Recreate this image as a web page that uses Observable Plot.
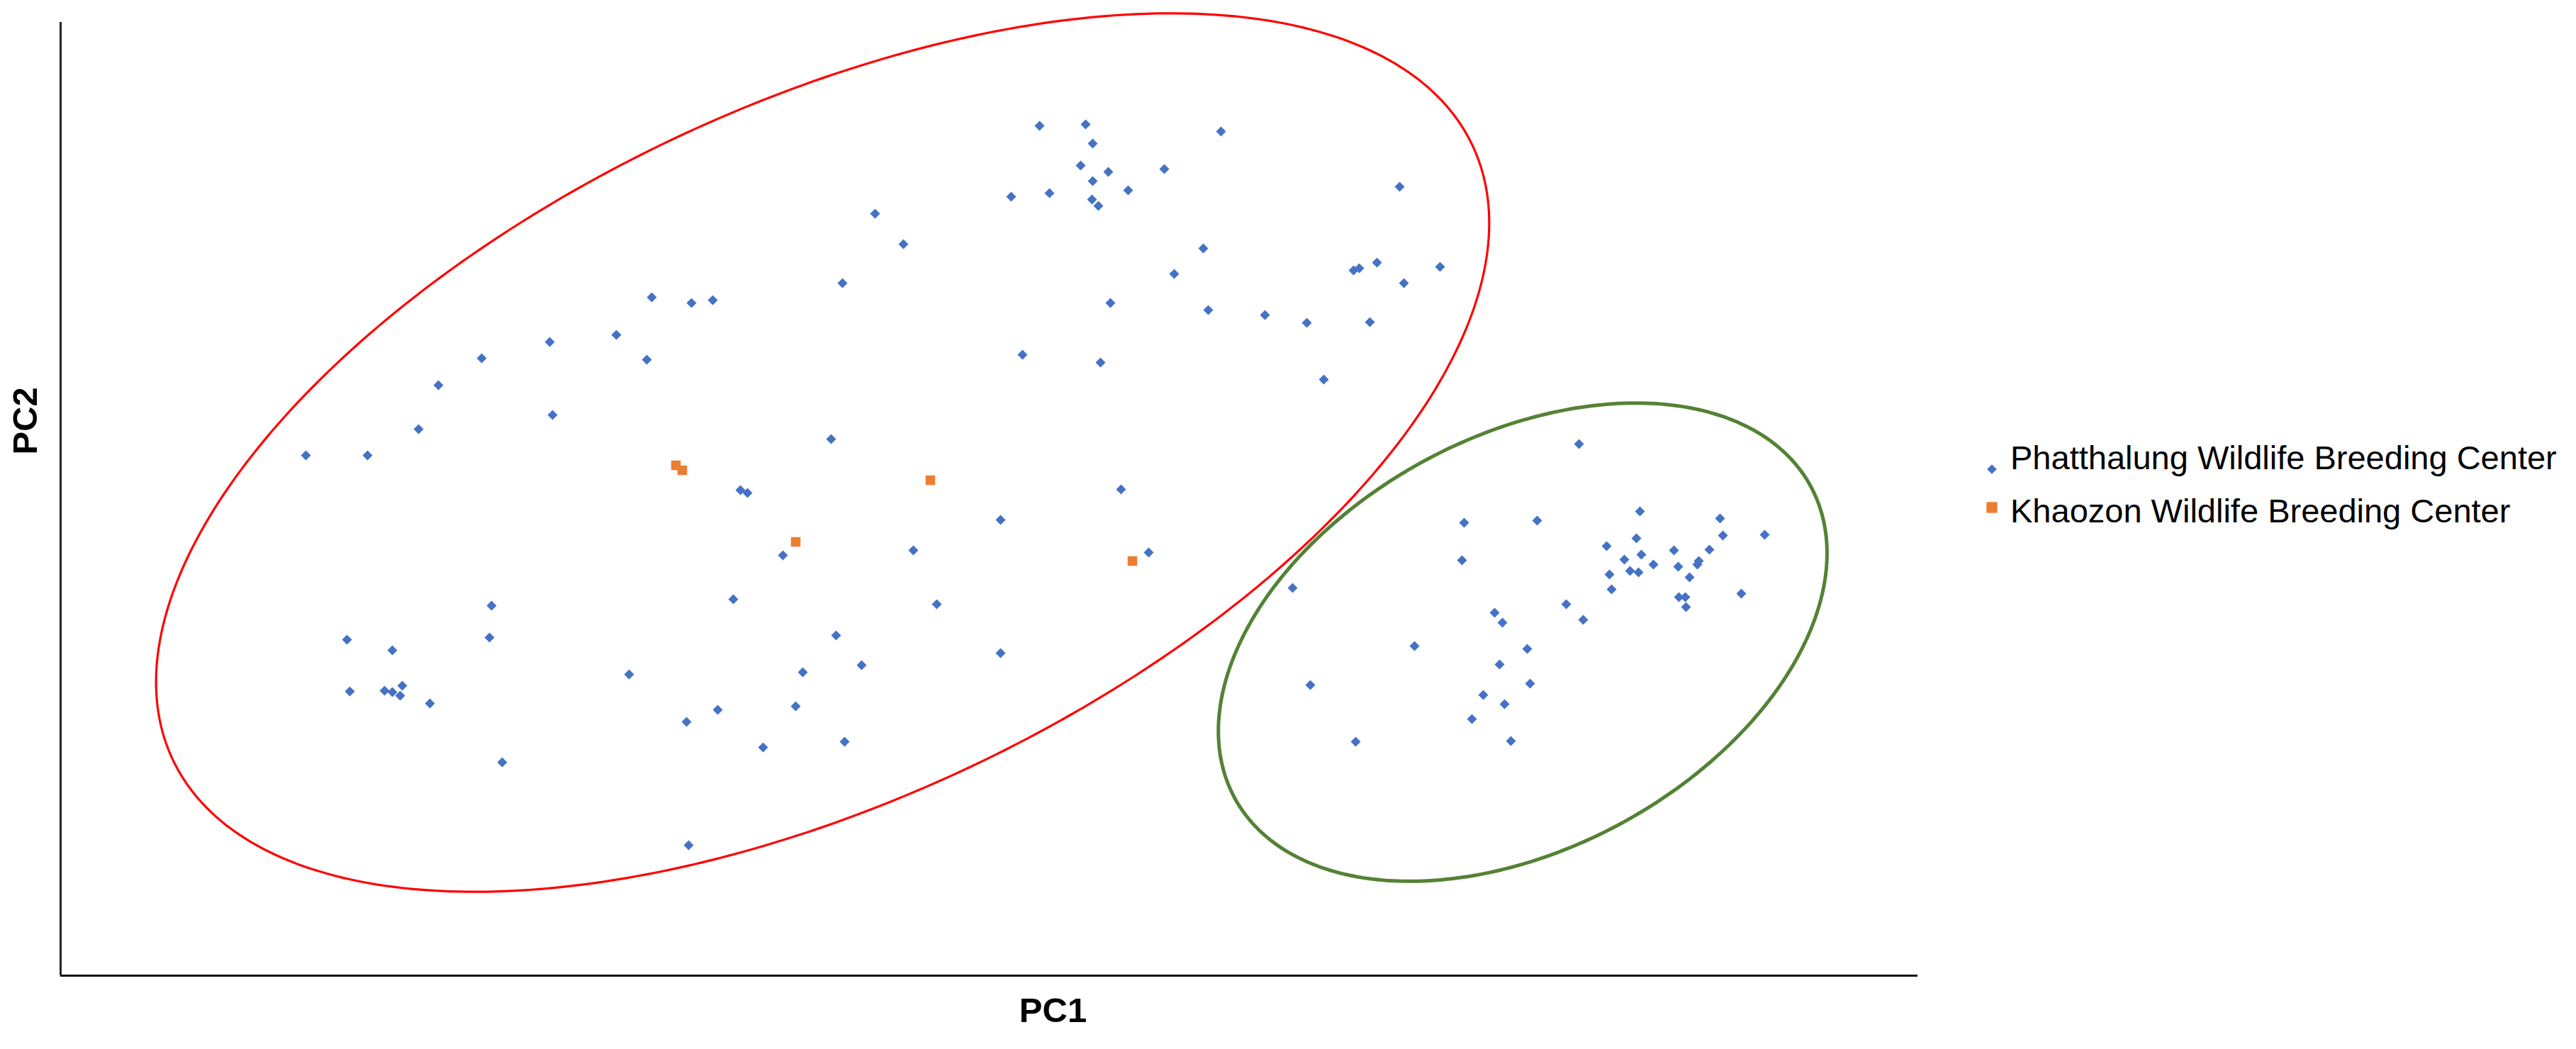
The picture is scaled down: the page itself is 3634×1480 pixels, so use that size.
<!DOCTYPE html>
<html>
<head>
<meta charset="utf-8">
<script src="https://cdn.jsdelivr.net/npm/d3@7"></script>
<script src="https://cdn.jsdelivr.net/npm/@observablehq/plot@0.6"></script>
<style>
  html, body { margin: 0; padding: 0; background: #ffffff; }
  #wrap { position: relative; width: 3634px; height: 1480px; font-family: "Liberation Sans", Arial, sans-serif; }
  #legend { position: absolute; left: 2780px; top: 600px; }
</style>
</head>
<body>
<div id="wrap"></div>
<script>
// ---- Data (PC scores) ----
const seriesNames = ["Phatthalung Wildlife Breeding Center", "Khaozon Wildlife Breeding Center"];

const phatthalungPC1 = [
  -9.69, -8.82, -8.10, -7.82, -7.21, -6.25, -6.21, -5.31, -4.88, -4.81, -4.25, -3.95,
  0.66, 1.31, 3.22, 1.41, 1.24, 1.63, 2.42, 1.41, 1.91, 0.26, 0.80, 1.40, 1.49,
  -1.66, -1.26, 2.97, 2.56, -2.12, 1.66, 3.04, 0.42, 1.52, -2.28,
  5.74, 5.42, 5.09, 5.17, 6.31, 5.80, 3.84, 4.43, 5.32, 4.67,
  -3.56, -3.46, -3.66, -7.07, -9.11, -7.10, -8.47, -5.13, -9.07, -8.58, -8.47, -8.33, -8.36, -7.94,
  -3.88, -4.32, -6.92, -4.29, 1.81, 0.11, -2.96, -1.12, 2.20, -0.79, -2.21, 0.11, -1.85, -2.68,
  -2.78, -3.24, -2.09,
  8.27, 9.13, 6.65, 7.68, 10.26, 10.30, 10.89, 9.08, 8.66, 9.61, 10.11, 9.15, 8.91, 9.32,
  9.67, 9.94, 9.96, 6.62, 8.70, 8.99, 9.11, 9.83, 4.23, 8.73, 9.68, 9.77, 10.56, 9.78,
  8.09, 7.08, 7.19, 8.33, 5.95, 7.54, 7.15, 4.48, 7.58, 6.92, 7.22, 6.76, 5.12, 7.31
];
const phatthalungPC2 = [
  0.58, 0.58, 0.95, 1.57, 1.95, 2.18, 1.15, 2.28, 1.93, 2.81, 2.73, 2.77,
  5.23, 5.25, 5.15, 4.98, 4.67, 4.58, 4.62, 4.45, 4.32, 4.23, 4.28, 4.19, 4.10,
  3.99, 3.56, 3.50, 3.14, 3.01, 2.73, 2.63, 2.00, 1.89, 0.81,
  4.37, 3.30, 3.19, 3.22, 3.24, 3.01, 2.56, 2.45, 2.46, 1.65,
  0.09, 0.05, -1.45, -1.54, -2.02, -1.99, -2.17, -2.51, -2.75, -2.74, -2.76, -2.67, -2.81, -2.92,
  -3.01, -3.18, -3.75, -4.92, 0.10, -0.33, -0.83, -0.76, -0.79, -1.52, -1.96, -2.21, -2.38, -2.48,
  -2.96, -3.54, -3.46,
  0.74, -0.21, -0.37, -0.34, -0.31, -0.55, -0.54, -0.59, -0.70, -0.76, -0.75, -0.82, -0.89, -0.96,
  -0.99, -0.96, -0.91, -0.90, -1.10, -1.05, -1.07, -1.14, -1.29, -1.31, -1.42, -1.42, -1.37, -1.56,
  -1.52, -1.64, -1.78, -1.74, -2.11, -2.15, -2.37, -2.66, -2.64, -2.80, -2.93, -3.14, -3.46, -3.45
];

const khaozonPC1 = [-4.47, -4.38, -0.88, -2.78, 1.97];
const khaozonPC2 = [0.44, 0.37, 0.23, -0.64, -0.91];

// Cluster ellipses (centre, semi-axes, tilt in degrees), in PC units
const ellipseCX = [-2.40, 7.476];
const ellipseCY = [0.62, -2.055];
const ellipseA = [10.14, 4.62];
const ellipseB = [4.90, 2.91];
const ellipseTilt = [25.3, 28.4];

// Axis extents (no tick labels in the original)
const pc1Domain = [-13.15, 13.05];
const pc2Domain = [-6.76, 6.69];

// ---- Build tables ----
const phatthalung = phatthalungPC1.map((x, i) => ({pc1: x, pc2: phatthalungPC2[i], group: seriesNames[0]}));
const khaozon = khaozonPC1.map((x, i) => ({pc1: x, pc2: khaozonPC2[i], group: seriesNames[1]}));

function ellipsePath(k) {
  const pts = [];
  const th = ellipseTilt[k] * Math.PI / 180;
  for (let d = 0; d <= 360; d += 1) {
    const t = d * Math.PI / 180;
    pts.push({
      id: k,
      pc1: ellipseCX[k] + ellipseA[k] * Math.cos(t) * Math.cos(th) - ellipseB[k] * Math.sin(t) * Math.sin(th),
      pc2: ellipseCY[k] + ellipseA[k] * Math.cos(t) * Math.sin(th) + ellipseB[k] * Math.sin(t) * Math.cos(th)
    });
  }
  return pts;
}

// ---- Styles ----
const blue = "#4472C4";
const orange = "#ED7D31";
const red = "#FF0000";
const green = "#548235";
const fontFam = "'Liberation Sans', Arial, sans-serif";

const W = 3634, H = 1480;
const mL = 85, mR = 929, mT = 31, mB = 104;
const frameCX = (mL + (W - mR)) / 2;
const frameCY = (mT + (H - mB)) / 2;
const labelSize = 49;

const chart = Plot.plot({
  width: W,
  height: H,
  marginLeft: mL,
  marginRight: mR,
  marginTop: mT,
  marginBottom: mB,
  x: {domain: pc1Domain, axis: null},
  y: {domain: pc2Domain, axis: null},
  style: {fontFamily: fontFam, background: "#ffffff", overflow: "visible"},
  marks: [
    Plot.line(ellipsePath(0), {x: "pc1", y: "pc2", stroke: red, strokeWidth: 3.2}),
    Plot.line(ellipsePath(1), {x: "pc1", y: "pc2", stroke: green, strokeWidth: 5}),
    Plot.ruleX([pc1Domain[0]], {stroke: "#262626", strokeWidth: 3}),
    Plot.ruleY([pc2Domain[0]], {stroke: "#111111", strokeWidth: 3}),
    Plot.dot(phatthalung, {x: "pc1", y: "pc2", symbol: "diamond2", r: 6.3, fill: blue, stroke: "none"}),
    Plot.dot(khaozon, {x: "pc1", y: "pc2", symbol: "square", r: 7.6, fill: orange, stroke: "none"}),
    Plot.text(["PC1"], {frameAnchor: "bottom", dx: 1485 - frameCX, dy: 1441 - (H - mB), text: d => d,
      fontSize: labelSize, fontWeight: "bold", fill: "#000000"}),
    Plot.text(["PC2"], {frameAnchor: "left", dx: 36 - mL, dy: 641 - frameCY, rotate: -90, text: d => d,
      fontSize: labelSize, fontWeight: "bold", fill: "#000000"})
  ]
});

const wrap = document.getElementById("wrap");
wrap.appendChild(chart);

// ---- Legend (right of plot) ----
const lg = d3.select(wrap).append("svg")
  .attr("id", "legend")
  .attr("width", 850)
  .attr("height", 200)
  .style("font-family", fontFam);

const legendRows = [
  {name: seriesNames[0], sym: d3.symbolDiamond2, size: 120, fill: blue, sy: 62, ty: 62},
  {name: seriesNames[1], sym: d3.symbolSquare, size: 235, fill: orange, sy: 116, ty: 137}
];
legendRows.forEach(r => {
  lg.append("path")
    .attr("d", d3.symbol(r.sym, r.size)())
    .attr("transform", `translate(30,${r.sy})`)
    .attr("fill", r.fill);
  lg.append("text")
    .attr("x", 56)
    .attr("y", r.ty)
    .attr("font-size", 47)
    .attr("fill", "#000")
    .text(r.name);
});
</script>
</body>
</html>
